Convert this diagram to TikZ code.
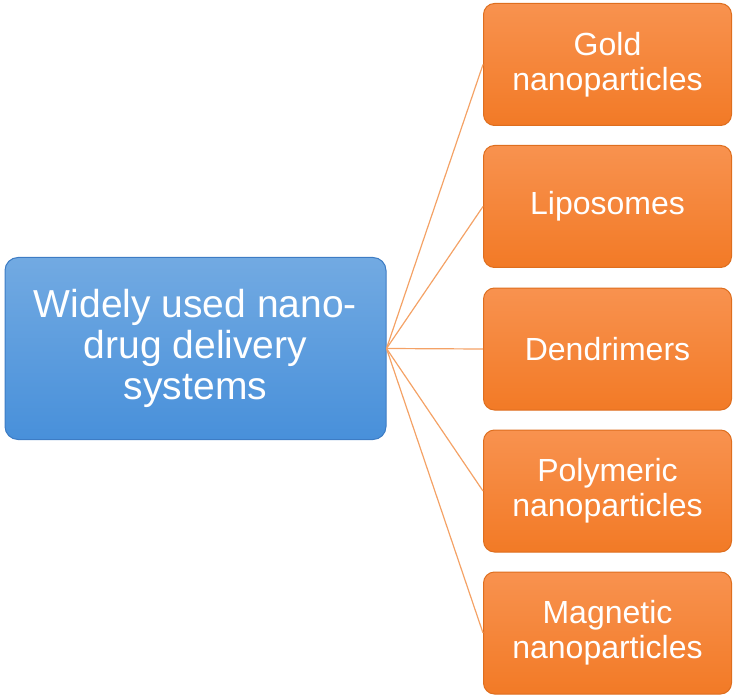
\documentclass[tikz,border=0pt]{standalone}
\usepackage{fontspec}
\setmainfont{Liberation Sans}
\definecolor{hubtop}{HTML}{72AAE2}
\definecolor{hubbot}{HTML}{4890DA}
\definecolor{hubedge}{HTML}{3D7CC4}
\definecolor{leaftop}{HTML}{F8924F}
\definecolor{leafbot}{HTML}{F27A26}
\definecolor{leafedge}{HTML}{DE6E1E}
\definecolor{linkcol}{HTML}{F4A266}
\begin{document}
\begin{tikzpicture}[x=1pt,y=-1pt,
  hubbox/.style={draw=hubedge,line width=1pt,rounded corners=13pt,top color=hubtop,bottom color=hubbot,
    text=white,align=center,minimum width=381pt,minimum height=182pt,inner sep=0pt,
    font=\fontsize{39}{41}\selectfont},
  leafbox/.style={draw=leafedge,line width=1pt,rounded corners=11pt,top color=leaftop,bottom color=leafbot,
    text=white,align=center,minimum width=248pt,minimum height=122pt,inner sep=0pt,
    font=\fontsize{32}{35}\selectfont},
  link/.style={draw=linkcol,line width=1.2pt}]
\useasboundingbox (0,0) rectangle (735,700);
% central node
\node[hubbox] (hub) at (195.5,348.5) {Widely used nano-\\drug delivery\\systems};
% delivery systems
\node[leafbox] (gold) at (607.5,64.5) {Gold\\nanoparticles};
\node[leafbox] (lipo) at (607.5,206.5) {Liposomes};
\node[leafbox] (dend) at (607.5,349) {Dendrimers};
\node[leafbox] (poly) at (607.5,491) {Polymeric\\nanoparticles};
\node[leafbox] (magn) at (607.5,633) {Magnetic\\nanoparticles};
% links
\foreach \t in {gold,lipo,dend,poly,magn}
  \draw[link] (hub.east) -- (\t.west);
\end{tikzpicture}
\end{document}
